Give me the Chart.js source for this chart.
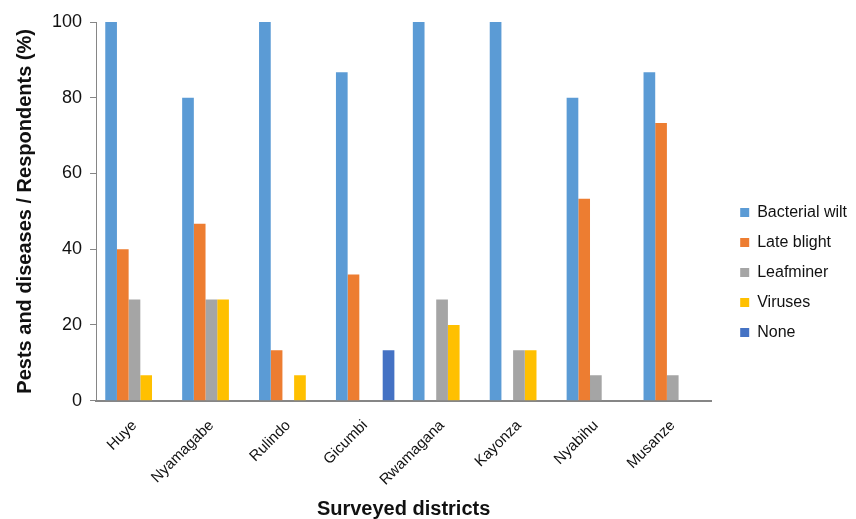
<!DOCTYPE html>
<html>
<head>
<meta charset="utf-8">
<script src="https://cdn.jsdelivr.net/npm/chart.js@4/dist/chart.umd.min.js"></script>
<style>
  html, body { margin: 0; padding: 0; background: #ffffff; }
  #wrap { width: 856px; height: 519px; }
</style>
</head>
<body>
<div id="wrap"><canvas id="myChart" width="856" height="519"></canvas></div>
<script>
// districts surveyed
const districts = ['Huye', 'Nyamagabe', 'Rulindo', 'Gicumbi', 'Rwamagana', 'Kayonza', 'Nyabihu', 'Musanze'];

// % of respondents reporting each problem
const bacterialWilt = [100, 80, 100, 86.7, 100, 100, 80, 86.7];
const lateBlight    = [40, 46.7, 13.3, 33.3, 0, 0, 53.3, 73.3];
const leafminer     = [26.7, 26.7, 0, 0, 26.7, 13.3, 6.7, 6.7];
const viruses       = [6.7, 26.7, 6.7, 0, 20, 13.3, 0, 0];
const noneReported  = [0, 0, 0, 13.3, 0, 0, 0, 0];

const yTicks = [0, 20, 40, 60, 80, 100];

// nudge the legend block to where the original sits
const legendShift = {
    id: 'legendShift',
    afterLayout(chart)
    {
        const lg = chart.legend;
        if (!lg) return;
        lg.left += 15;
        lg.right += 15;
        lg.top += 1;
        lg.bottom += 1;
    }
};

let ctx = document.getElementById('myChart').getContext('2d');

let chart_1 = new Chart(ctx,
{
    type: 'bar',
    data:
    {
        labels: districts,
        datasets:
        [
            { label: 'Bacterial wilt', data: bacterialWilt, backgroundColor: '#5B9BD5' },
            { label: 'Late blight',    data: lateBlight,    backgroundColor: '#ED7D31' },
            { label: 'Leafminer',      data: leafminer,     backgroundColor: '#A5A5A5' },
            { label: 'Viruses',        data: viruses,       backgroundColor: '#FFC000' },
            { label: 'None',           data: noneReported,  backgroundColor: '#4472C4' }
        ]
    },
    plugins: [legendShift],
    options:
    {
        responsive: false,
        animation: false,
        devicePixelRatio: 1,
        datasets: { bar: { categoryPercentage: 0.76, barPercentage: 1.0, borderWidth: 0 } },
        layout: { padding: { left: 0, right: 14, top: 22, bottom: -2 } },
        plugins:
        {
            tooltip: { enabled: false },
            legend:
            {
                position: 'right',
                labels:
                {
                    boxWidth: 9,
                    boxHeight: 9,
                    padding: 14,
                    color: '#111',
                    font: { family: 'Liberation Sans, Arial, sans-serif', size: 16 }
                }
            }
        },
        scales:
        {
            x:
            {
                grid: { display: false },
                border: { display: true, color: '#868686', width: 2 },
                ticks:
                {
                    color: '#111',
                    maxRotation: 45,
                    minRotation: 45,
                    padding: 8,
                    font: { family: 'Liberation Sans, Arial, sans-serif', size: 15 }
                },
                title:
                {
                    display: true,
                    text: 'Surveyed districts',
                    color: '#111',
                    padding: { top: 0, bottom: 0 },
                    font: { family: 'Liberation Sans, Arial, sans-serif', size: 20, weight: 'bold' }
                }
            },
            y:
            {
                min: 0,
                max: 100,
                afterBuildTicks: (axis) => { axis.ticks = yTicks.map(v => ({ value: v })); },
                grid: { drawOnChartArea: false, drawTicks: true, tickLength: 6, color: '#868686' },
                border: { display: true, color: '#868686', width: 1 },
                ticks:
                {
                    color: '#111',
                    padding: 8,
                    font: { family: 'Liberation Sans, Arial, sans-serif', size: 18 }
                },
                title:
                {
                    display: true,
                    text: 'Pests and diseases / Respondents (%)',
                    color: '#111',
                    padding: { top: 13, bottom: 7 },
                    font: { family: 'Liberation Sans, Arial, sans-serif', size: 20, weight: 'bold' }
                }
            }
        }
    }
});
</script>
</body>
</html>
